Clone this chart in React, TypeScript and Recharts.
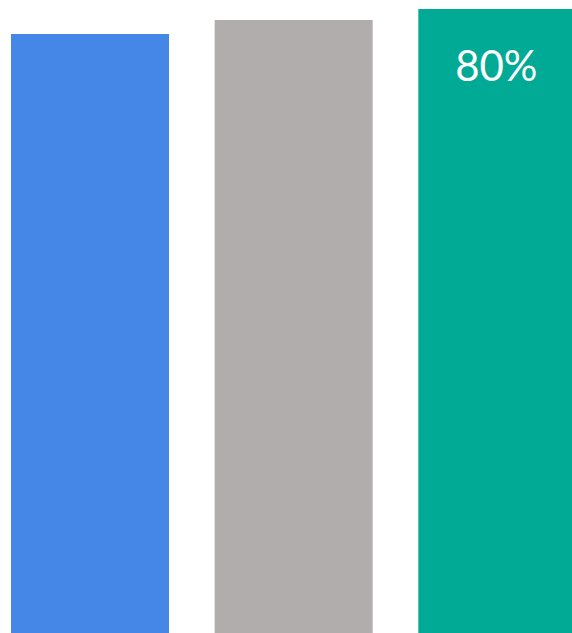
import { BarChart, Bar, XAxis, YAxis, Cell, LabelList } from "recharts";

const categories = ["A", "B", "C"];
const values = [76.8, 78.6, 80];
const labels = ["", "", "80%"];
const COLORS = ["#4587e6", "#b0adac", "#00aa94"];

const data = categories.map((name, i) => ({
  name,
  value: values[i],
  label: labels[i],
}));

function TopLabel(props: any) {
  const { x, y, width, value } = props;
  if (!value) return null;
  return (
    <text
      x={Number(x) + Number(width) / 2 - 1}
      y={Number(y) + 61}
      fill="#ffffff"
      textAnchor="middle"
      dominantBaseline="middle"
      style={{ fontFamily: "Lato, sans-serif", fontSize: 42 }}
    >
      {value}
    </text>
  );
}

export default function App() {
  return (
    <div
      style={{
        position: "fixed",
        left: 0,
        top: 0,
        width: 572,
        height: 633,
        overflow: "hidden",
        background: "#fff",
      }}
    >
      <div style={{ position: "absolute", left: -12, top: 9 }}>
        <BarChart
          width={611}
          height={624}
          data={data}
          margin={{ top: 0, right: 0, left: 0, bottom: 0 }}
        >
          <XAxis dataKey="name" hide />
          <YAxis hide domain={[0, 80]} />
          <Bar dataKey="value" barSize={158} isAnimationActive={false}>
            {data.map((_, i) => (
              <Cell key={i} fill={COLORS[i]} />
            ))}
            <LabelList dataKey="label" content={TopLabel} />
          </Bar>
        </BarChart>
      </div>
    </div>
  );
}
